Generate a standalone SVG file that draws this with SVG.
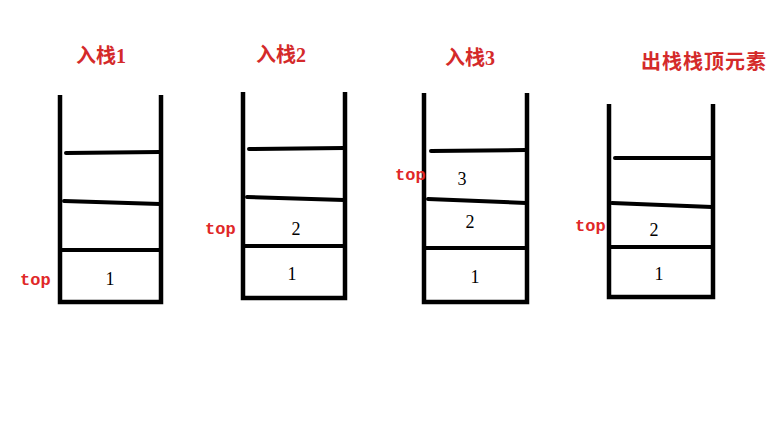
<svg xmlns="http://www.w3.org/2000/svg" width="773" height="426" viewBox="0 0 773 426">
<style>
.wall{fill:none;stroke:#000;stroke-width:4.5;stroke-linecap:butt;stroke-linejoin:miter}
.line{stroke:#000;stroke-width:4;stroke-linecap:round;fill:none}
.title{font-family:"Liberation Serif","Noto Sans CJK SC",serif;font-weight:bold;font-size:20px;fill:#d42a2a;text-anchor:middle}
.top{font-family:"Liberation Mono",monospace;font-size:17px;fill:#e02828;font-weight:bold}
.num{font-family:"Liberation Serif",serif;font-size:18px;fill:#000;text-anchor:middle}
</style>
<rect width="773" height="426" fill="#fff"/>
<g id="stack1">
<text class="title" x="101" y="63">入栈1</text>
<path class="wall" d="M60,95 V302 H161 V95"/>
<path class="line" d="M66,153 L160,152"/>
<path class="line" d="M64,201 L160,204"/>
<path class="line" d="M62,250 L160,250"/>
<text class="num" x="110" y="285">1</text>
<text class="top" x="20" y="285">top</text>
</g>
<g id="stack2">
<text class="title" x="281" y="62">入栈2</text>
<path class="wall" d="M243,92 V298 H345 V92"/>
<path class="line" d="M249,149 L344,148"/>
<path class="line" d="M247,197 L344,200"/>
<path class="line" d="M245,246 L344,246"/>
<text class="num" x="296" y="235">2</text>
<text class="num" x="292" y="280">1</text>
<text class="top" x="205" y="234">top</text>
</g>
<g id="stack3">
<text class="title" x="470" y="65">入栈3</text>
<path class="wall" d="M424,93 V302 H527 V93"/>
<path class="line" d="M431,151 L526,150"/>
<path class="line" d="M428,199 L526,203"/>
<path class="line" d="M426,248 L526,248"/>
<text class="num" x="462" y="185">3</text>
<text class="num" x="470" y="228">2</text>
<text class="num" x="475" y="283">1</text>
<text class="top" x="395" y="180">top</text>
</g>
<g id="stack4">
<text class="title" x="704" y="69" letter-spacing="1">出栈栈顶元素</text>
<path class="wall" d="M609,104 V297 H713 V104"/>
<path class="line" d="M615,158 L712,158"/>
<path class="line" d="M612,203 L712,207"/>
<path class="line" d="M611,247 L712,247"/>
<text class="num" x="654" y="236">2</text>
<text class="num" x="659" y="280">1</text>
<text class="top" x="575" y="231">top</text>
</g>
<g id="connectors"></g>
</svg>
